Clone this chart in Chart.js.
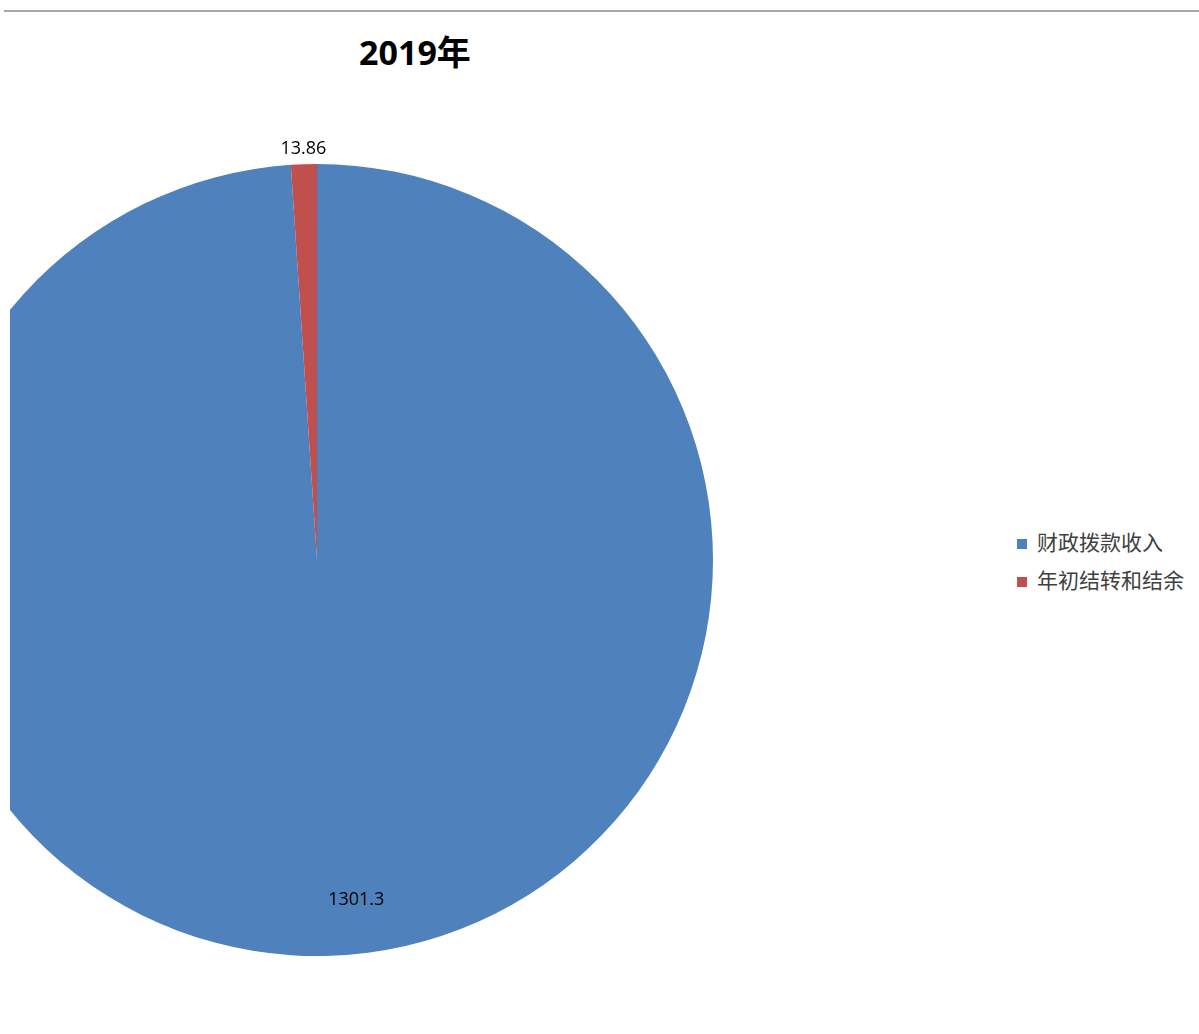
<!DOCTYPE html>
<html>
<head>
<meta charset="utf-8">
<script src="https://cdn.jsdelivr.net/npm/chart.js@4"></script>
<style>
  body { margin: 0; background: #fff; width: 1199px; height: 1034px; overflow: hidden; position: relative; }
  #rule { position: absolute; left: 4px; top: 10px; width: 1195px; height: 0; border-top: 2px solid #a6a6a6; }
  #title { position: absolute; left: 300px; width: 230px; top: 26px; text-align: center;
           font: bold 34px "Open Sans", "Noto Sans CJK SC", sans-serif; color: #000; }
  #clip { position: absolute; left: 10px; top: 0; width: 1189px; height: 1034px; overflow: hidden; }
  #box { position: absolute; left: -129px; top: 124px; width: 872px; height: 872px; }
  #legend { position: absolute; left: 1017px; top: 526px; font: 21px "Noto Sans CJK SC", sans-serif; color: #404040; }
  #legend div { height: 38px; line-height: 30px; white-space: nowrap; }
  #legend span { display: inline-block; width: 10px; height: 10px; margin-right: 10px; vertical-align: 1px; }
</style>
</head>
<body>
<div id="rule"></div>
<div id="title">2019年</div>
<div id="clip"><div id="box"><canvas id="pie"></canvas></div></div>
<div id="legend"></div>
<script>
// 数据
const categories = ["财政拨款收入", "年初结转和结余"];
const values = [1301.3, 13.86];
const labelsText = ["1301.3", "13.86"];
const colors = ["#4F81BD", "#C0504D"];

// 数据标签插件
const sliceLabels = {
  id: "sliceLabels",
  afterDatasetsDraw(chart, args, opts) {
    const ctx = chart.ctx;
    const arcs = chart.getDatasetMeta(0).data;
    ctx.save();
    ctx.font = "18px 'Open Sans', sans-serif";
    ctx.fillStyle = "#000";
    ctx.textAlign = "center";
    ctx.textBaseline = "middle";
    arcs.forEach((arc, i) => {
      const p = arc.getProps(["x", "y", "startAngle", "endAngle", "outerRadius"], true);
      const mid = (p.startAngle + p.endAngle) / 2;
      const r = p.outerRadius * opts.radius[i] + opts.extra[i];
      ctx.fillText(labelsText[i], p.x + Math.cos(mid) * r + opts.shift[i], p.y + Math.sin(mid) * r);
    });
    ctx.restore();
  }
};

let ctx = document.getElementById("pie").getContext("2d");
let pieChart = new Chart(ctx, {
  type: "pie",
  data: {
    labels: categories,
    datasets: [{ data: values, backgroundColor: colors, borderWidth: 0 }]
  },
  options: {
    responsive: true,
    maintainAspectRatio: false,
    animation: false,
    layout: { padding: 40 },
    plugins: {
      legend: { display: false },
      tooltip: { enabled: false },
      sliceLabels: { radius: [0.86, 1], extra: [0, 15], shift: [28, 0] }
    }
  },
  plugins: [sliceLabels]
});

// 图例
const legend = document.getElementById("legend");
categories.forEach((c, i) => {
  const row = document.createElement("div");
  const sw = document.createElement("span");
  sw.style.background = colors[i];
  row.appendChild(sw);
  row.appendChild(document.createTextNode(c));
  legend.appendChild(row);
});
</script>
</body>
</html>
